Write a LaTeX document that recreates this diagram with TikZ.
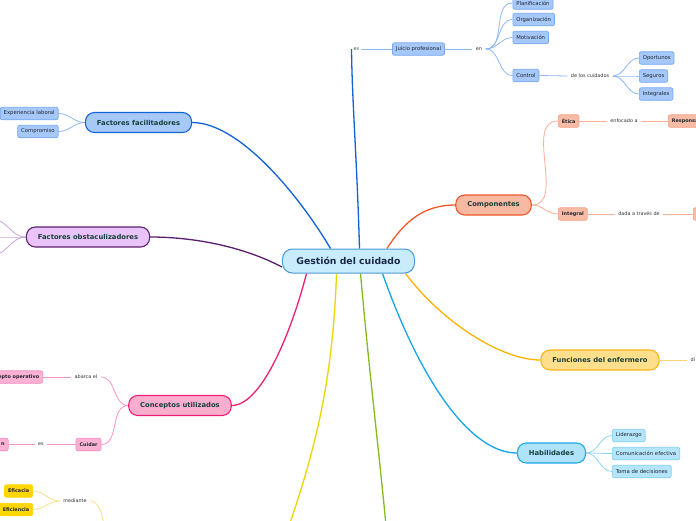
\documentclass[tikz,border=0pt]{standalone}
\usepackage{fontspec}
\setmainfont{DejaVu Sans}
\usetikzlibrary{backgrounds,calc}
\definecolor{cfill}{HTML}{C8ECFB}\definecolor{cdraw}{HTML}{4A9AD4}\definecolor{ctext}{HTML}{1B2A4A}
\definecolor{titletext}{HTML}{17403A}\definecolor{subtext}{HTML}{1E2530}\definecolor{labtext}{HTML}{333333}
\definecolor{esgreen}{HTML}{1E5C3C}
\definecolor{ffdraw}{HTML}{1565D8}\definecolor{fffill}{HTML}{A6C9F8}\definecolor{blueline}{HTML}{1162D6}
\definecolor{fodraw}{HTML}{5E2070}\definecolor{fofill}{HTML}{EAC3F8}\definecolor{purpline}{HTML}{5A1E6E}
\definecolor{cpdraw}{HTML}{F0562A}\definecolor{cpfill}{HTML}{F8B9A2}\definecolor{orline}{HTML}{F2592B}
\definecolor{fedraw}{HTML}{FDB515}\definecolor{fefill}{HTML}{FFDF8C}\definecolor{feline}{HTML}{FFB300}
\definecolor{hbdraw}{HTML}{1FA8E6}\definecolor{hbfill}{HTML}{AEE3FA}\definecolor{hbline}{HTML}{16A5E6}
\definecolor{cudraw}{HTML}{EC1F76}\definecolor{cufill}{HTML}{FCAECF}\definecolor{culine}{HTML}{EE1E77}
\definecolor{grline}{HTML}{84BC1E}\definecolor{yeline}{HTML}{EDD500}
\definecolor{sbfill}{HTML}{A5C8F9}\definecolor{sbdraw}{HTML}{77A8F2}\definecolor{sbline}{HTML}{8FB8F5}
\definecolor{ssfill}{HTML}{F8BBA6}\definecolor{ssdraw}{HTML}{F6A084}\definecolor{ssline}{HTML}{FBAE95}
\definecolor{spfill}{HTML}{FDB2D4}\definecolor{spdraw}{HTML}{F78BBE}\definecolor{spline}{HTML}{F995C5}
\definecolor{slfill}{HTML}{B5E5FB}\definecolor{sldraw}{HTML}{82D0F4}\definecolor{slline}{HTML}{8DD5F5}
\definecolor{syfill}{HTML}{FFD600}\definecolor{syline}{HTML}{F7E283}
\definecolor{suline}{HTML}{CBA6D9}\definecolor{sfline}{HTML}{FFD36B}
\tikzset{
 central/.style={draw=cdraw, fill=cfill, line width=1pt, rounded corners=10pt, minimum height=24pt, inner xsep=14pt, font=\fontsize{9.3}{11}\selectfont\bfseries, text=ctext},
 mainbox/.style={line width=1.1pt, rounded corners=9pt, minimum height=20pt, inner xsep=11.5pt, font=\fontsize{6.8}{8}\selectfont\bfseries, text=titletext},
 subbox/.style={line width=0.7pt, rounded corners=2pt, minimum height=12.5pt, inner xsep=3.5pt, inner ysep=1pt, font=\fontsize{5.3}{6.5}\selectfont, text=subtext},
 subbold/.style={font=\fontsize{4.9}{6}\selectfont\bfseries},
 sblue/.style={subbox, draw=sbdraw, fill=sbfill},
 ssalm/.style={subbox, subbold, draw=ssdraw, fill=ssfill},
 spink/.style={subbox, subbold, draw=spdraw, fill=spfill},
 slblue/.style={subbox, draw=sldraw, fill=slfill},
 syell/.style={subbox, subbold, draw=syfill, fill=syfill},
 lab/.style={inner xsep=3.5pt, inner ysep=1pt, font=\fontsize{4.9}{6}\selectfont, text=labtext},
 mainline/.style={line width=1.3pt},
 subline/.style={line width=0.8pt},
}
\begin{document}
\begin{tikzpicture}[x=1pt,y=-1pt]
\useasboundingbox (0,0) rectangle (696,520);
\clip (0,0) rectangle (696,520);
% central
\node[central] (c) at (348.5,261) {Gestión del cuidado};
% main branches
\node[mainbox, draw=ffdraw, fill=fffill] (ff) at (138.5,122.5) {Factores facilitadores};
\node[mainbox, draw=fodraw, fill=fofill] (fo) at (88,237) {Factores obstaculizadores};
\node[mainbox, draw=cpdraw, fill=cpfill] (comp) at (493.5,205) {Componentes};
\node[mainbox, draw=fedraw, fill=fefill] (fe) at (600,360) {Funciones del enfermero};
\node[mainbox, draw=hbdraw, fill=hbfill] (hab) at (551.5,453) {Habilidades};
\node[mainbox, draw=cudraw, fill=cufill] (cu) at (180,405.5) {Conceptos utilizados};
% top blue branch
\node[lab, text=esgreen, inner xsep=2pt] (es1) at (356.5,49) {es};
\node[sblue] (jp) at (418.5,49) {Juicio profesional};
\node[lab] (en) at (479,49) {en};
\node[sblue, anchor=west] (plan) at (512.5,3) {Planificación};
\node[sblue, anchor=west] (org) at (512.5,19.5) {Organización};
\node[sblue, anchor=west] (mot) at (512.5,37.5) {Motivación};
\node[sblue, anchor=west] (ctrl) at (512.5,75.5) {Control};
\node[lab] (dlc) at (590,76) {de los cuidados};
\node[sblue, anchor=west] (op) at (639,58) {Oportunos};
\node[sblue, anchor=west] (seg) at (639,76) {Seguros};
\node[sblue, anchor=west] (int) at (639,94) {Integrales};
% facilitadores
\node[sblue, anchor=east] (exp) at (58.5,113.5) {Experiencia laboral};
\node[sblue, anchor=east] (compr) at (58.5,131.5) {Compromiso};
% componentes
\node[ssalm, anchor=west] (etica) at (558,121) {Ética};
\node[lab] (enf) at (624,121) {enfocado a};
\node[ssalm, anchor=west] (resp) at (668,121) {Responsabilidad};
\node[ssalm, anchor=west] (integral) at (558,214) {Integral};
\node[lab] (dat) at (639,214) {dada a través de};
\node[ssalm, anchor=west, minimum width=40pt] (b2) at (693,214) {};
% funciones
\node[lab, anchor=west] (di) at (687,360) {di};
% habilidades
\node[slblue, anchor=west] (lid) at (612,435.5) {Liderazgo};
\node[slblue, anchor=west] (com) at (612,453.5) {Comunicación efectiva};
\node[slblue, anchor=west] (tom) at (612,471.5) {Toma de decisiones};
% conceptos
\node[lab] (abr) at (86,377) {abarca el};
\node[spink, anchor=east] (co) at (43,377) {Concepto operativo};
\node[spink] (cui) at (88.5,444.5) {Cuidar};
\node[lab] (es2) at (41,444.5) {es};
\node[spink, anchor=east] (nb) at (8.5,444.5) {n};
% yellow
\node[lab] (med) at (75,501) {mediante};
\node[syell, anchor=east] (efc) at (33,491) {Eficacia};
\node[syell, anchor=east] (efi) at (33,509.5) {Eficiencia};
% free ends
\coordinate (fo1) at (-8,219);
\coordinate (fo2) at (-8,237);
\coordinate (fo3) at (-8,255);
\coordinate (gend) at (386,526);
\coordinate (yend) at (289,526);
\coordinate (mend) at (104,526);
\begin{scope}[on background layer]
\fill[white] (0,0) rectangle (696,520);
% main connectors
\draw[mainline, blueline] ([xshift=-18pt]c.north) .. controls (300,197) and (240,122.5) .. (ff.east);
\draw[mainline, blueline] ([xshift=11pt]c.north) .. controls (357,160) and (352,100) .. (es1.west);
\draw[mainline, purpline] ([yshift=-6pt]c.west) .. controls (240,245) and (190,237) .. (fo.east);
\draw[mainline, orline] ([xshift=38.5pt]c.north) .. controls (405,220) and (425,205) .. (comp.west);
\draw[mainline, feline] ([xshift=57pt]c.south) .. controls (440,320) and (500,360) .. (fe.west);
\draw[mainline, hbline] ([xshift=34pt]c.south) .. controls (420,380) and (470,453) .. (hab.west);
\draw[mainline, grline] ([xshift=12pt]c.south) .. controls (370,380) and (380,460) .. (gend);
\draw[mainline, yeline] ([xshift=-12pt]c.south) .. controls (333,380) and (315,450) .. (yend);
\draw[mainline, culine] ([xshift=-42pt]c.south) .. controls (292,330) and (262,405.5) .. (cu.east);
% blue subs
\draw[subline, sbline] (es1.east) -- (jp.west);
\draw[subline, sbline] (jp.east) -- (en.west);
\foreach \n in {plan,org,mot,ctrl} \draw[subline, sbline] (en.east) to[out=0,in=180] (\n.west);
\draw[subline, sbline] (ctrl.east) -- (dlc.west);
\foreach \n in {op,seg,int} \draw[subline, sbline] (dlc.east) to[out=0,in=180] (\n.west);
\foreach \n in {exp,compr} \draw[subline, sbline] (ff.west) to[out=180,in=0] (\n.east);
% purple subs
\foreach \n in {fo1,fo2,fo3} \draw[subline, suline] (fo.west) to[out=180,in=0] (\n);
% salmon subs
\foreach \n in {etica,integral} \draw[subline, ssline] (comp.east) to[out=0,in=180] (\n.west);
\draw[subline, ssline] (etica.east) -- (enf.west);
\draw[subline, ssline] (enf.east) -- (resp.west);
\draw[subline, ssline] (integral.east) -- (dat.west);
\draw[subline, ssline] (dat.east) -- (b2.west);
% funciones
\draw[subline, sfline] (fe.east) -- (di.west);
% habilidades
\foreach \n in {lid,com,tom} \draw[subline, slline] (hab.east) to[out=0,in=180] (\n.west);
% conceptos
\foreach \n in {abr,cui} \draw[subline, spline] (cu.west) to[out=180,in=0] (\n.east);
\draw[subline, spline] (abr.west) -- (co.east);
\draw[subline, spline] (cui.west) -- (es2.east);
\draw[subline, spline] (es2.west) -- (nb.east);
% yellow subs
\foreach \n in {efc,efi} \draw[subline, syline] (med.west) to[out=180,in=0] (\n.east);
\draw[subline, syline] (med.east) .. controls (97,501) and (102,510) .. (mend);
\end{scope}
\end{tikzpicture}
\end{document}
